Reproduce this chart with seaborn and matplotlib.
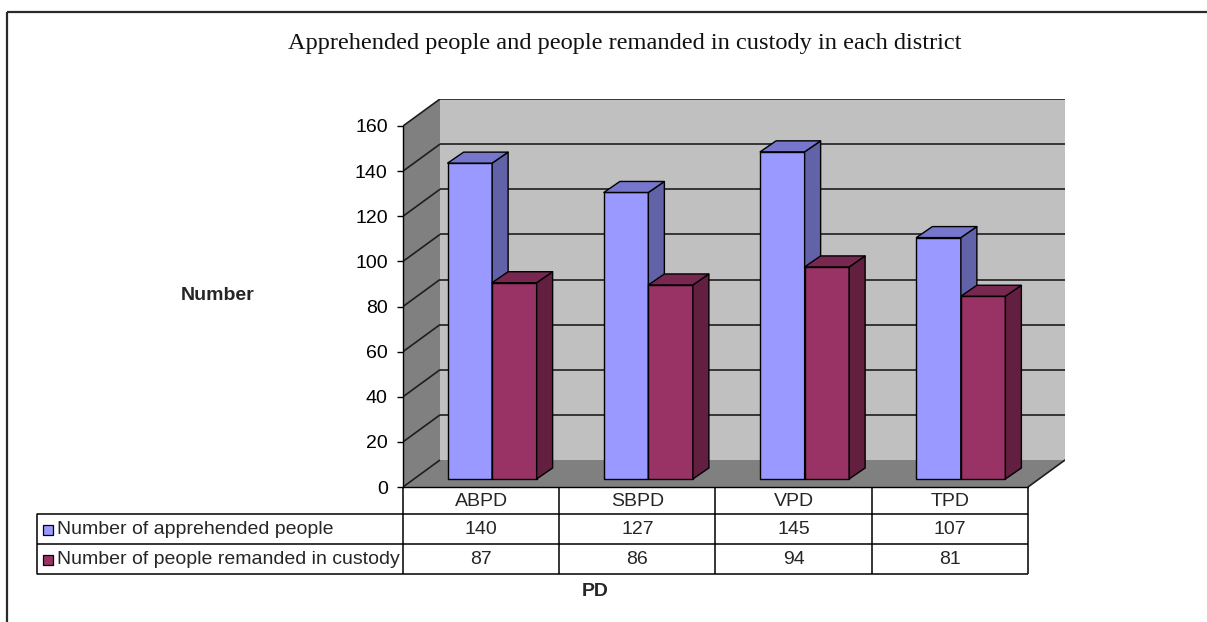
import matplotlib
matplotlib.use("Agg")
import matplotlib.pyplot as plt
import matplotlib.transforms as mtransforms
from matplotlib.patches import Polygon, Rectangle
import pandas as pd
import seaborn as sns

# ---- data -------------------------------------------------------------
districts = ["ABPD", "SBPD", "VPD", "TPD"]
apprehended = [140, 127, 145, 107]
remanded = [87, 86, 94, 81]
series_names = ["Number of apprehended people",
                "Number of people remanded in custody"]
y_ticks = [0, 20, 40, 60, 80, 100, 120, 140, 160]

title = "Apprehended people and people remanded in custody in each district"
y_label = "Number"
x_label = "PD"

# ---- styling ----------------------------------------------------------
front_colors = ["#9999FF", "#993366"]
top_colors = ["#7676CC", "#782850"]
side_colors = ["#6262A8", "#621F40"]
wall_side = "#808080"
wall_back = "#C0C0C0"
floor_color = "#808080"
grid_color = "#1e1e1e"

W, H = 1207, 622
sns.set_theme(style="white")
plt.rcParams["font.family"] = ["Liberation Sans", "DejaVu Sans"]

fig = plt.figure(figsize=(W / 100, H / 100), dpi=100)
fig.patch.set_facecolor("white")

# pixel layout of the pseudo-3D box
X0, X1 = 403, 1028        # front plane left / right
Y0, YTOP = 487, 126       # rows of the lowest / highest tick
DEPTH = (37, 27)          # box depth (right, up)
BAR_SHIFT = (11, 8)       # bar front face offset inside the box
BAR_DEPTH = (16, 11)      # bar thickness
GROUP_PX = 89             # width of a pair of bars

n = len(districts)
ymax = y_ticks[-1]
ux = n / (X1 - X0)
uy = ymax / (Y0 - YTOP)

ax_l, ax_r = X0, X1 + DEPTH[0]
ax_t, ax_b = YTOP - DEPTH[1], Y0
ax = fig.add_axes([ax_l / W, 1 - ax_b / H, (ax_r - ax_l) / W, (ax_b - ax_t) / H])

df = pd.DataFrame({
    "district": districts * 2,
    "series": [series_names[0]] * n + [series_names[1]] * n,
    "value": apprehended + remanded,
})

sns.barplot(data=df, x="district", y="value", hue="series",
            order=districts, hue_order=series_names, palette=front_colors,
            width=GROUP_PX * ux, saturation=1, edgecolor="black",
            linewidth=1.0, legend=False, ax=ax)

bars = sorted([p for p in ax.patches if p.get_height() > 0], key=lambda p: p.get_x())

xmin = -0.5
xlim = (xmin, xmin + (ax_r - ax_l) * ux)
ylim = (0, (ax_b - ax_t) * uy)
ax.set_xlim(*xlim)
ax.set_ylim(*ylim)
ax.patch.set_visible(False)

ddx, ddy = DEPTH[0] * ux, DEPTH[1] * uy
xr = xmin + n

# walls and floor
ax.add_patch(Polygon([(xmin, 0), (xmin, ymax), (xmin + ddx, ymax + ddy), (xmin + ddx, ddy)],
                     closed=True, fc=wall_side, ec="none", zorder=0.3))
ax.add_patch(Polygon([(xmin + ddx, ddy), (xr + ddx, ddy), (xr + ddx, ymax + ddy), (xmin + ddx, ymax + ddy)],
                     closed=True, fc=wall_back, ec="none", zorder=0.3))
ax.add_patch(Polygon([(xmin, 0), (xr, 0), (xr + ddx, ddy), (xmin + ddx, ddy)],
                     closed=True, fc=floor_color, ec="none", zorder=0.4))

# gridlines on side and back walls
for v in y_ticks:
    ax.plot([xmin, xmin + ddx], [v, v + ddy], color=grid_color, lw=1.2, zorder=0.6,
            solid_capstyle="butt")
    if v > 0:
        ax.plot([xmin + ddx, xr + ddx], [v + ddy, v + ddy], color=grid_color, lw=1.2,
                zorder=0.5, solid_capstyle="butt")
# floor edges
ax.plot([xmin, xr], [0, 0], color="black", lw=1.0, zorder=0.7, clip_on=False)
ax.plot([xr, xr + ddx], [0, ddy], color=grid_color, lw=1.2, zorder=0.7)

# bars: shift front faces into the box and add tops and sides
sx, sy = BAR_SHIFT[0] * ux, BAR_SHIFT[1] * uy
bx, by = BAR_DEPTH[0] * ux, BAR_DEPTH[1] * uy
for i, p in enumerate(bars):
    k = i % 2
    z = 2 + i * 0.1
    x0 = p.get_x() + sx
    w = p.get_width()
    h = p.get_height()
    p.set_x(x0)
    p.set_y(sy)
    p.set_zorder(z)
    y0 = sy
    ax.add_patch(Polygon([(x0 + w, y0), (x0 + w + bx, y0 + by), (x0 + w + bx, y0 + h + by), (x0 + w, y0 + h)],
                         closed=True, fc=side_colors[k], ec="black", lw=1.0, zorder=z + 0.01))
    ax.add_patch(Polygon([(x0, y0 + h), (x0 + w, y0 + h), (x0 + w + bx, y0 + h + by), (x0 + bx, y0 + h + by)],
                         closed=True, fc=top_colors[k], ec="black", lw=1.0, zorder=z + 0.02,
                         joinstyle="round"))

# axes decoration
for s in ["top", "right", "bottom"]:
    ax.spines[s].set_visible(False)
ax.spines["left"].set_visible(True)
ax.spines["left"].set_color("black")
ax.spines["left"].set_linewidth(1.0)
ax.spines["left"].set_bounds(0, ymax)
ax.set_yticks(y_ticks)
ax.set_yticklabels([str(t) for t in y_ticks])
ax.tick_params(axis="y", left=True, direction="out", length=4, width=1.0,
               color="black", pad=7, labelsize=14, labelcolor="black")
ax.set_xticks([])
ax.set_xlabel("")
ax.set_ylabel("")
ax.grid(False)

# ---- overlay in pixel coordinates: frame, title, labels, data table ----
ov = fig.add_axes([0, 0, 1, 1])
ov.set_xlim(0, W)
ov.set_ylim(H, 0)
ov.axis("off")
ov.patch.set_visible(False)

ov.add_patch(Rectangle((7, 12), W + 10, H + 20, fill=False, ec="#2a2a2a", lw=1.6, clip_on=False))

ov.text(625, 44, title, family=["Liberation Serif", "DejaVu Serif"], fontsize=17.6,
        ha="center", va="center", color="#111111")
ov.text(218, 296, y_label, fontsize=14, fontweight="bold", ha="center", va="center")
ov.text(595, 592, x_label, fontsize=14, fontweight="bold", ha="center", va="center")

mix = mtransforms.blended_transform_factory(ax.transData, ov.transData)

ROWS = [487, 514, 544, 574]
LEG_L = 37
tbl_lw = 1.1
# horizontal rules
for r in ROWS[1:]:
    ov.plot([LEG_L, X1], [r, r], color="black", lw=tbl_lw, solid_capstyle="butt")
ov.plot([LEG_L, LEG_L], [ROWS[1], ROWS[3]], color="black", lw=tbl_lw)
# column separators
for j in range(n + 1):
    ov.plot([xmin + j, xmin + j], [ROWS[0], ROWS[3]], color="black", lw=tbl_lw,
            transform=mix, solid_capstyle="butt")

# header and values
for j, d in enumerate(districts):
    ov.text(j, (ROWS[0] + ROWS[1]) / 2 + 1, d, transform=mix, ha="center", va="center", fontsize=14)
for row, vals in enumerate([apprehended, remanded]):
    yc = (ROWS[row + 1] + ROWS[row + 2]) / 2 + 1
    for j, v in enumerate(vals):
        ov.text(j, yc, str(v), transform=mix, ha="center", va="center", fontsize=14)
    ov.add_patch(Rectangle((43, yc - 5), 10, 10, fc=front_colors[row], ec="black", lw=0.9))
    ov.text(57, yc, series_names[row], ha="left", va="center", fontsize=14)

fig.savefig("out.png", dpi=100)
